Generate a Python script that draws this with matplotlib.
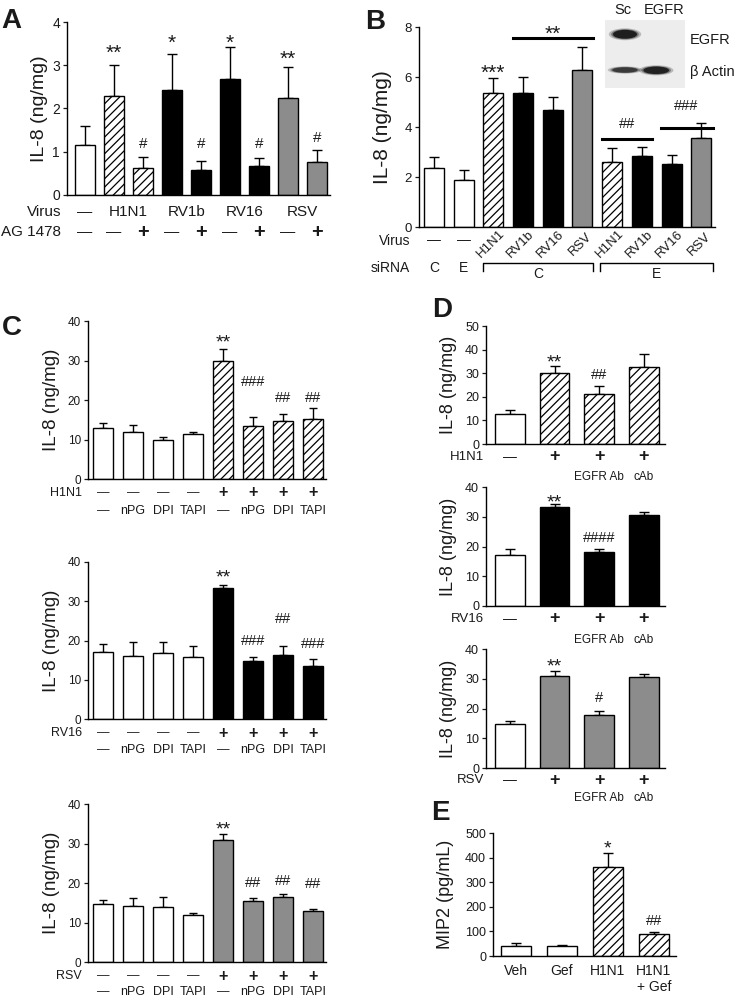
import matplotlib
matplotlib.use('Agg')
import matplotlib.pyplot as plt
import matplotlib.transforms as mtransforms
from matplotlib.patches import Ellipse

plt.rcParams['font.family'] = ['Liberation Sans', 'DejaVu Sans']
plt.rcParams['hatch.linewidth'] = 0.9
plt.rcParams['axes.linewidth'] = 1.0
plt.rcParams['text.color'] = '#1a1a1a'

W, H = 741, 1005
GRAY = '#8c8c8c'

# ---- panel A : IL-8, AG 1478 ----
a_vals = [1.15, 2.3, 0.63, 2.43, 0.58, 2.68, 0.66, 2.25, 0.77]
a_err = [0.45, 0.7, 0.24, 0.82, 0.2, 0.75, 0.19, 0.71, 0.28]
a_style = ['open', 'hatch', 'hatch', 'black', 'black', 'black', 'black', 'gray', 'gray']
a_virus = ['—', 'H1N1', 'RV1b', 'RV16', 'RSV']
a_ag = ['—', '—', '+', '—', '+', '—', '+', '—', '+']
a_marks = [(1, '**', 3.42), (3, '*', 3.65), (5, '*', 3.65), (7, '**', 3.28),
           (2, '#', 1.2), (4, '#', 1.2), (6, '#', 1.2), (8, '#', 1.34)]

# ---- panel B : IL-8, siRNA ----
b_vals = [2.38, 1.9, 5.35, 5.38, 4.7, 6.3, 2.62, 2.83, 2.52, 3.55]
b_err = [0.44, 0.37, 0.6, 0.62, 0.5, 0.9, 0.53, 0.39, 0.36, 0.6]
b_style = ['open', 'open', 'hatch', 'black', 'black', 'gray', 'hatch', 'black', 'black', 'gray']
b_virus = ['—', '—', 'H1N1', 'RV1b', 'RV16', 'RSV', 'H1N1', 'RV1b', 'RV16', 'RSV']
b_sirna = ['C', 'E']
b_marks = [(4.0, '**', 7.96), (2, '***', 6.4), (6.5, '##', 4.16), (8.5, '###', 4.88)]

# ---- panel C : IL-8, inhibitors ----
c_treat = ['—', 'nPG', 'DPI', 'TAPI', '—', 'nPG', 'DPI', 'TAPI']
c_virus = ['—', '—', '—', '—', '+', '+', '+', '+']
c_style_h = ['open'] * 4 + ['hatch'] * 4
c_style_r = ['open'] * 4 + ['black'] * 4
c_style_s = ['open'] * 4 + ['gray'] * 4
c_h1n1_vals = [12.8, 12.0, 9.8, 11.3, 30.0, 13.4, 14.8, 15.1]
c_h1n1_err = [1.4, 1.7, 0.8, 0.5, 3.0, 2.4, 1.7, 2.9]
c_h1n1_marks = [(4, '**', 35.9), (5, '###', 24.8), (6, '##', 20.8), (7, '##', 20.8)]
c_rv16_vals = [17.0, 16.0, 16.7, 15.7, 33.3, 14.7, 16.2, 13.6]
c_rv16_err = [2.1, 3.5, 2.9, 2.8, 0.8, 1.1, 2.4, 1.6]
c_rv16_marks = [(4, '**', 37.4), (5, '###', 20.1), (6, '##', 25.7), (7, '###', 19.3)]
c_rsv_vals = [14.7, 14.1, 13.9, 12.0, 31.0, 15.5, 16.5, 13.0]
c_rsv_err = [1.1, 2.1, 2.5, 0.4, 1.5, 0.7, 0.8, 0.3]
c_rsv_marks = [(4, '**', 34.9), (5, '##', 20.3), (6, '##', 20.8), (7, '##', 20.0)]

# ---- panel D : IL-8, EGFR antibody ----
d_virus = ['—', '+', '+', '+']
d_treat = ['', '', 'EGFR Ab', 'cAb']
d_style_h = ['open', 'hatch', 'hatch', 'hatch']
d_style_r = ['open', 'black', 'black', 'black']
d_style_s = ['open', 'gray', 'gray', 'gray']
d_h1n1_vals = [12.8, 30.0, 21.0, 32.5]
d_h1n1_err = [1.4, 3.0, 3.5, 5.8]
d_h1n1_marks = [(1, '**', 36.8), (2, '##', 29.7)]
d_rv16_vals = [17.0, 33.3, 18.0, 30.5]
d_rv16_err = [2.2, 0.9, 1.2, 1.1]
d_rv16_marks = [(1, '**', 36.8), (2, '####', 23.2)]
d_rsv_vals = [14.7, 30.9, 17.9, 30.5]
d_rsv_err = [1.2, 1.8, 1.3, 1.1]
d_rsv_marks = [(1, '**', 35.9), (2, '#', 23.9)]

# ---- panel E : MIP2 ----
e_labels = ['Veh', 'Gef', 'H1N1', 'H1N1\n+ Gef']
e_vals = [42, 40, 362, 88]
e_err = [10, 5, 58, 8]
e_style = ['open', 'open', 'hatch', 'hatch']
e_marks = [(2, '*', 462), (3, '##', 146)]

STYLE = {
    'open': dict(color='white'),
    'hatch': dict(color='white', hatch='////'),
    'black': dict(color='black'),
    'gray': dict(color=GRAY),
}

fig = plt.figure(figsize=(W / 100, H / 100), dpi=100)


def make_axes(x0, x1, ytop, ybot, ylim, yticks, xlim, fs):
    ax = fig.add_axes([x0 / W, 1 - ybot / H, (x1 - x0) / W, (ybot - ytop) / H])
    ax.set_xlim(*xlim)
    ax.set_ylim(*ylim)
    ax.set_yticks(yticks)
    ax.set_xticks([])
    for s in ('top', 'right'):
        ax.spines[s].set_visible(False)
    ax.tick_params(axis='y', length=3, width=0.9, labelsize=fs, pad=2, colors='#1a1a1a')
    ax.patch.set_alpha(0)
    return ax


def draw_bars(ax, vals, errs, styles, width, cap):
    for i, (v, s) in enumerate(zip(vals, styles)):
        ax.bar(i, v, width, edgecolor='black', linewidth=1.0, zorder=2, **STYLE[s])
    ax.errorbar(range(len(vals)), vals, yerr=[[0] * len(vals), errs], fmt='none',
                ecolor='black', elinewidth=1.0, capsize=cap, capthick=1.0, zorder=1)


def marks(ax, items, star_fs=15, hash_fs=10):
    # y values are the visual centres of the symbols
    for i, s, y in items:
        fs = star_fs if '*' in s else hash_fs
        off = 0.315 * fs if '*' in s else 0.085 * fs
        ax.annotate(s, (i, y), xytext=(0, -off), textcoords='offset points',
                    ha='center', va='center', fontsize=fs, annotation_clip=False)


def row(ax, ypx, labels, fs, xs=None, **kw):
    tr = mtransforms.blended_transform_factory(ax.transData, fig.transFigure)
    xs = list(range(len(labels))) if xs is None else xs
    for x, t in zip(xs, labels):
        if t == '+':
            ax.text(x, 1 - ypx / H, t, transform=tr, ha='center', va='center',
                    fontsize=fs * 1.3, fontweight='bold', clip_on=False, **kw)
        else:
            ax.text(x, 1 - ypx / H, t, transform=tr, ha='center', va='center',
                    fontsize=fs, clip_on=False, **kw)


def head(xr, ypx, t, fs):
    fig.text(xr / W, 1 - ypx / H, t, ha='right', va='center', fontsize=fs)


def ylab(xc, ytop, ybot, t, fs):
    fig.text(xc / W, 1 - (ytop + ybot) / 2 / H, t, rotation=90,
             ha='center', va='center', fontsize=fs)


def letter(x, y, t):
    fig.text(x / W, 1 - y / H, t, ha='center', va='center', fontsize=20, fontweight='bold')


# ---------------- A ----------------
ax = make_axes(67, 330, 22, 195, (0, 4), range(5), (-0.62, 8.45), 10)
draw_bars(ax, a_vals, a_err, a_style, 0.72, 3.5)
marks(ax, a_marks, 15, 11)
head(61, 212, 'Virus', 11)
head(61, 232, 'AG 1478', 11)
row(ax, 212, a_virus, 11, xs=[0, 1.5, 3.5, 5.5, 7.5])
row(ax, 232, a_ag, 11)
ylab(40, 22, 195, 'IL-8 (ng/mg)', 14)
letter(11, 21, 'A')

# ---------------- B ----------------
ax = make_axes(419, 715, 27, 227, (0, 8), range(0, 9, 2), (-0.5, 9.46), 9.5)
draw_bars(ax, b_vals, b_err, b_style, 0.67, 3.5)
ax.plot([3 - 0.35, 5 + 0.35], [7.55, 7.55], color='black', lw=2.2, clip_on=False)
ax.plot([6 - 0.35, 7 + 0.35], [3.52, 3.52], color='black', lw=2.2, clip_on=False)
ax.plot([8 - 0.35, 9 + 0.4], [3.98, 3.98], color='black', lw=2.2, clip_on=False)
marks(ax, b_marks, 15, 10.5)
head(410, 241, 'Virus', 10)
head(410, 268, 'siRNA', 10)
row(ax, 240, b_virus[:2], 10)
for i in range(2, 10):
    row(ax, 244, [b_virus[i]], 9.5, xs=[i - 0.08], rotation=45)
row(ax, 268, b_sirna, 10)
tr = mtransforms.blended_transform_factory(ax.transData, fig.transFigure)
for x0, x1, lab in [(2 - 0.35, 5 + 0.35, 'C'), (6 - 0.42, 9 + 0.4, 'E')]:
    ax.plot([x0, x0, x1, x1], [1 - 271 / H, 1 - 263 / H, 1 - 263 / H, 1 - 271 / H],
            transform=tr, color='black', lw=1.0, clip_on=False)
    ax.text((x0 + x1) / 2, 1 - 274 / H, lab, transform=tr, ha='center', va='center',
            fontsize=10, clip_on=False)
ylab(383, 27, 227, 'IL-8 (ng/mg)', 15)
letter(375, 22, 'B')

# western blot inset
bx = fig.add_axes([605 / W, 1 - 88 / H, 80 / W, 68 / H])
bx.set_xlim(0, 1)
bx.set_ylim(0, 1)
bx.set_facecolor('#ededed')
bx.set_xticks([])
bx.set_yticks([])
for s in bx.spines.values():
    s.set_visible(False)
for (cx, cy, w, h, c) in [(0.25, 0.79, 0.3, 0.13, '#1e1e1e'),
                          (0.25, 0.265, 0.32, 0.08, '#3a3a3a'),
                          (0.64, 0.26, 0.32, 0.11, '#222222')]:
    for k, a in [(1.35, 0.25), (1.15, 0.45), (1.0, 1.0)]:
        bx.add_patch(Ellipse((cx, cy), w * k, h * k, color=c, alpha=a, lw=0))
fig.text(623 / W, 1 - 10 / H, 'Sc', ha='center', va='center', fontsize=10.5)
fig.text(664 / W, 1 - 10 / H, 'EGFR', ha='center', va='center', fontsize=10.5)
fig.text(690 / W, 1 - 40 / H, 'EGFR', ha='left', va='center', fontsize=10.5)
fig.text(690 / W, 1 - 72 / H, 'β Actin', ha='left', va='center', fontsize=10.5)

# ---------------- C ----------------
c_panels = [
    (321, 479, c_h1n1_vals, c_h1n1_err, c_style_h, c_h1n1_marks, 'H1N1', 493, 511),
    (562, 719, c_rv16_vals, c_rv16_err, c_style_r, c_rv16_marks, 'RV16', 733, 750),
    (804, 962, c_rsv_vals, c_rsv_err, c_style_s, c_rsv_marks, 'RSV', 976, 992),
]
for ytop, ybot, vals, errs, sty, mk, name, r1, r2 in c_panels:
    ax = make_axes(88, 326, ytop, ybot, (0, 40), range(0, 41, 10), (-0.5, 7.43), 8.5)
    draw_bars(ax, vals, errs, sty, 0.67, 3)
    marks(ax, mk, 14, 10.5)
    head(82, r1, name, 9)
    row(ax, r1, c_virus, 9)
    row(ax, r2, c_treat, 9)
    ylab(52, ytop, ybot, 'IL-8 (ng/mg)', 13.5)
letter(12, 328, 'C')

# ---------------- D ----------------
d_panels = [
    (326, 444, (0, 50), range(0, 51, 10), d_h1n1_vals, d_h1n1_err, d_style_h, d_h1n1_marks, 'H1N1', 457, 477),
    (487, 606, (0, 40), range(0, 41, 10), d_rv16_vals, d_rv16_err, d_style_r, d_rv16_marks, 'RV16', 619, 640),
    (649, 768, (0, 40), range(0, 41, 10), d_rsv_vals, d_rsv_err, d_style_s, d_rsv_marks, 'RSV', 780, 798),
]
for ytop, ybot, ylim, ticks, vals, errs, sty, mk, name, r1, r2 in d_panels:
    ax = make_axes(486, 665, ytop, ybot, ylim, ticks, (-0.54, 3.48), 9)
    draw_bars(ax, vals, errs, sty, 0.67, 3.5)
    marks(ax, mk, 14, 10.5)
    head(484, r1, name, 9.5)
    row(ax, r1, d_virus, 10)
    row(ax, r2, d_treat, 8.5)
    ylab(448, ytop, ybot, 'IL-8 (ng/mg)', 13)
letter(442, 310, 'D')

# ---------------- E ----------------
ax = make_axes(493, 676, 833, 956, (0, 500), range(0, 501, 100), (-0.5, 3.48), 9)
draw_bars(ax, e_vals, e_err, e_style, 0.67, 3.5)
marks(ax, e_marks, 14, 10.5)
tr = mtransforms.blended_transform_factory(ax.transData, fig.transFigure)
for i, t in enumerate(e_labels):
    ax.text(i, 1 - 964 / H, t, transform=tr, ha='center', va='top', fontsize=10,
            linespacing=1.2, clip_on=False)
ylab(446, 833, 956, 'MIP2 (pg/mL)', 13)
letter(440, 813, 'E')

fig.savefig('out.png', dpi=100)
